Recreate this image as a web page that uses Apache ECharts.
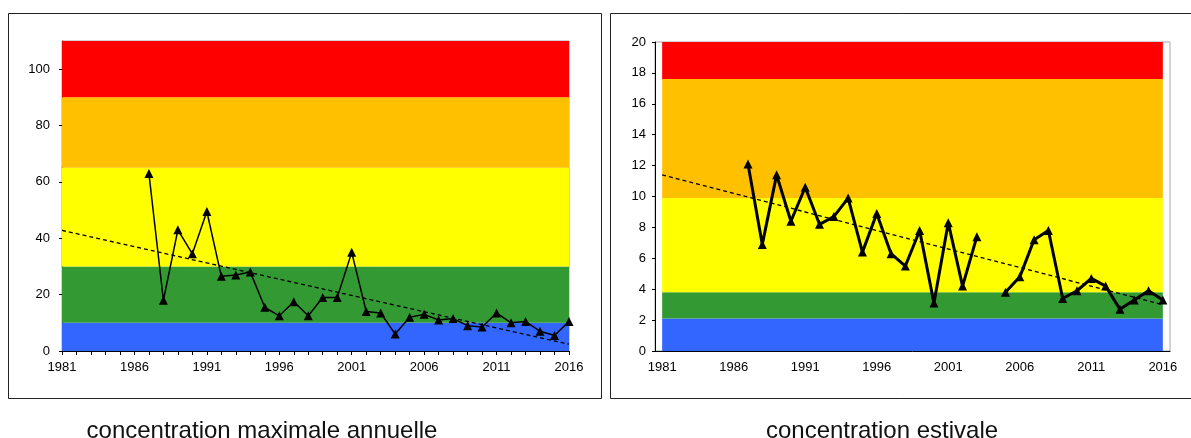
<!DOCTYPE html>
<html><head><meta charset="utf-8">
<script src="https://cdn.jsdelivr.net/npm/echarts@6/dist/echarts.min.js"></script>
<style>html,body{margin:0;padding:0;background:#fff}#c{width:1191px;height:438px}</style>
</head><body><div id="c"></div>
<script>
const years = ['1981','1982','1983','1984','1985','1986','1987','1988','1989','1990','1991','1992','1993','1994','1995','1996','1997','1998','1999','2000','2001','2002','2003','2004','2005','2006','2007','2008','2009','2010','2011','2012','2013','2014','2015','2016'];
// concentration maximale annuelle (1981..2016)
const maxValues = [null,null,null,null,null,null,63,18,43,34.5,49.5,26.5,27,28,15.5,12.5,17.5,12.5,19,19,35,14,13.5,6,12,13,11,11.5,9,8.5,13.5,10,10.5,7,5.5,10.5];
const maxTrend = [[0,42.8],[35,2.4]];
const maxBands = [0,10,30,65,90,110];
const maxTicks = [0,20,40,60,80,100];
// concentration estivale (1981..2016)
const summerValues = [null,null,null,null,null,null,12.1,6.9,11.4,8.4,10.6,8.2,8.7,9.9,6.4,8.9,6.3,5.5,7.8,3.1,8.3,4.2,7.4,null,3.8,4.8,7.2,7.8,3.4,3.9,4.7,4.2,2.7,3.3,3.9,3.3];
const summerTrend = [[0,11.4],[35,3.0]];
const summerBands = [0,2.1,3.8,9.9,17.6,20];
const summerTicks = [0,2,4,6,8,10,12,14,16,18,20];
const bandColors = ['#3366FF','#339933','#FFFF00','#FFC000','#FF0000'];
const titles = ['concentration maximale annuelle','concentration estivale'];

const FONT = '"Liberation Sans", Arial, sans-serif';
function bandAreas(bands, full){
  const out=[];
  for(let i=0;i<bands.length-1;i++){
    const a={yAxis:bands[i], itemStyle:{color:bandColors[i], opacity:1}};
    const b={yAxis:bands[i+1]};
    if(!full){a.xAxis=years[0]; b.xAxis=years[years.length-1];}
    out.push([a,b]);
  }
  return out;
}
function xAxisOf(gi, gap){
  return {type:'category', gridIndex:gi, data:years, boundaryGap:gap,
    axisLine:{lineStyle:{color:'#000',width:1}},
    axisTick:{interval:0,length:4,lineStyle:{color:'#000'}},
    axisLabel:{interval:4,color:'#000',fontSize:13,fontFamily:FONT,margin:10},
    splitLine:{show:false}};
}
function yAxisOf(gi, max, interval, ticks, margin){
  return {type:'value', gridIndex:gi, min:0, max:max, interval:interval,
    axisLine:{show:true,lineStyle:{color:'#000',width:1}},
    axisTick:{show:true,length:3,customValues:ticks,lineStyle:{color:'#000'}},
    axisLabel:{color:'#000',fontSize:13,fontFamily:FONT,margin:margin,customValues:ticks},
    splitLine:{show:false}};
}
function seriesOf(gi, values, trend, bands, full, lw){
  return [
    {type:'line', xAxisIndex:gi, yAxisIndex:gi, data:[], z:1, silent:true,
      markArea:{silent:true, data:bandAreas(bands, full)}},
    {type:'line', xAxisIndex:gi, yAxisIndex:gi, data:values, z:3, symbol:'triangle', symbolSize:[9,9],
      showAllSymbol:true, connectNulls:false, animation:false,
      itemStyle:{color:'#000'}, lineStyle:{color:'#000',width:lw}},
    {type:'line', xAxisIndex:gi, yAxisIndex:gi, data:trend, z:4, symbol:'none', animation:false,
      lineStyle:{color:'#000',width:1.3,type:[4,3]}}
  ];
}
const chart = echarts.init(document.getElementById('c'), null, {renderer:'canvas'});
chart.setOption({
  animation:false,
  backgroundColor:'#fff',
  grid:[
    {left:62, top:41, width:507, height:310, show:true, borderColor:'#a6a6a6', borderWidth:1, containLabel:false},
    {left:655, top:42, width:515, height:309, show:true, borderColor:'#a6a6a6', borderWidth:1, containLabel:false}
  ],
  xAxis:[xAxisOf(0,false), xAxisOf(1,true)],
  yAxis:[yAxisOf(0,110,20,maxTicks,12), yAxisOf(1,20,2,summerTicks,9)],
  series:[].concat(
    seriesOf(0, maxValues, maxTrend, maxBands, true, 1.5),
    seriesOf(1, summerValues, summerTrend, summerBands, false, 3)
  ),
  graphic:[
    {type:'rect', z:-1, shape:{x:8.5,y:13.5,width:593,height:385}, style:{fill:'none',stroke:'#222',lineWidth:1}},
    {type:'rect', z:-1, shape:{x:610.5,y:13.5,width:600,height:385}, style:{fill:'none',stroke:'#222',lineWidth:1}},
    {type:'text', x:262, y:431, style:{text:titles[0], fill:'#111', font:'24px '+FONT, textAlign:'center', textVerticalAlign:'middle'}},
    {type:'text', x:882, y:431, style:{text:titles[1], fill:'#111', font:'24px '+FONT, textAlign:'center', textVerticalAlign:'middle'}}
  ]
});
</script></body></html>
